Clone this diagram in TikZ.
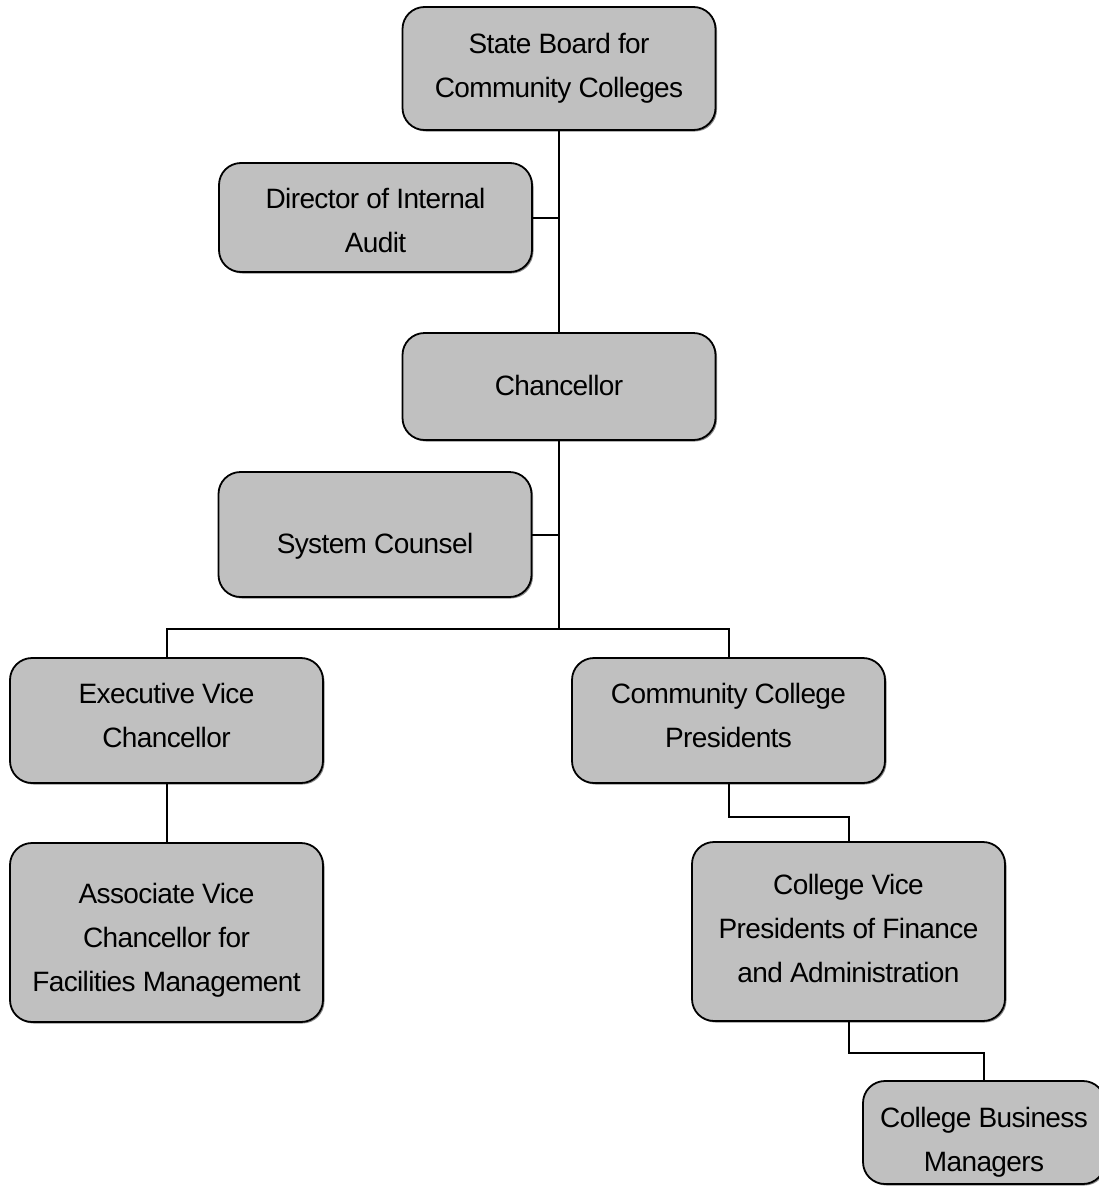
\documentclass[tikz,border=0pt]{standalone}
\usepackage{fontspec}
\setmainfont[LetterSpace=-2.2]{Liberation Sans}
\usetikzlibrary{shadows}
\definecolor{boxgray}{HTML}{C0C0C0}
\tikzset{
  orgbox/.style={draw=black, line width=1.8pt, fill=boxgray, rounded corners=22pt,
    inner sep=0pt, minimum width=313pt,
    drop shadow={shadow xshift=1.5pt, shadow yshift=-1.5pt, fill=black, opacity=0.45}},
  orgtext/.style={font=\fontsize{28}{44}\selectfont, align=center, inner sep=0pt},
  conn/.style={draw=black, line width=2pt}
}
\begin{document}
\begin{tikzpicture}[x=1pt,y=-1pt]
\useasboundingbox (0,0) rectangle (1099,1186);
\clip (0,0) rectangle (1099,1186);
\node[orgbox, minimum height=123pt, label={[name=sbt, orgtext]center:State Board for\\Community Colleges}] (sb) at (559,68.5) {};
\node[orgbox, minimum height=109pt, label={[name=diat, orgtext, yshift=-3pt]center:Director of Internal\\Audit}] (dia) at (375.5,217.5) {};
\node[orgbox, minimum height=107pt, label={[name=cht, orgtext, yshift=1pt]center:Chancellor}] (ch) at (559,386.5) {};
\node[orgbox, minimum height=125pt, label={[name=sct, orgtext, yshift=-12pt]center:System Counsel}] (sc) at (375,534.5) {};
\node[orgbox, minimum height=125pt, label={[name=evct, orgtext, yshift=5pt]center:Executive Vice\\Chancellor}] (evc) at (166.5,720.5) {};
\node[orgbox, minimum height=125pt, label={[name=ccpt, orgtext, yshift=5pt]center:Community College\\Presidents}] (ccp) at (728.5,720.5) {};
\node[orgbox, minimum height=179pt, label={[name=avct, orgtext, yshift=-8pt]center:Associate Vice\\Chancellor for\\Facilities Management}] (avc) at (166.5,932.5) {};
\node[orgbox, minimum height=179pt, label={[name=cvpt, orgtext, yshift=3pt]center:College Vice\\Presidents of Finance\\and Administration}] (cvp) at (848.5,931.5) {};
\node[orgbox, minimum height=103pt, minimum width=242pt, label={[name=cbmt, orgtext, yshift=-10pt]center:College Business\\Managers}] (cbm) at (984,1132.5) {};
\coordinate (busy) at (0,629);
\draw[conn] (sb.south) -- (ch.north);
\draw[conn] (dia.east) -- (dia.east -| sb.south);
\draw[conn] (ch.south) -- (ch.south |- busy);
\draw[conn] (sc.east) -- (sc.east -| ch.south);
\draw[conn] (evc.north) |- (ccp.north |- busy) -- (ccp.north);
\draw[conn] (evc.south) -- (avc.north);
\draw[conn] (ccp.south) -- ++(0,33) -| (cvp.north);
\draw[conn] (cvp.south) -- ++(0,31) -| (cbm.north);
\end{tikzpicture}
\end{document}
